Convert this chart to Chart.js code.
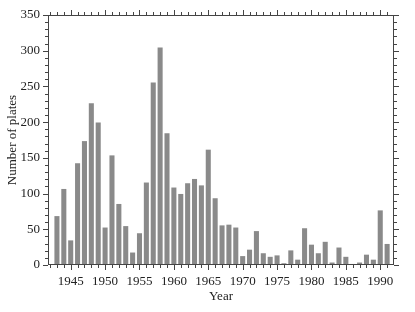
<!DOCTYPE html>
<html>
<head>
<meta charset="utf-8">
<script src="https://cdn.jsdelivr.net/npm/chart.js@4.4.1/dist/chart.umd.min.js"></script>
<style>
    html, body { margin: 0; padding: 0; background: #fff; }
    #wrap { width: 415px; height: 312px; }
</style>
</head>
<body>
<div id="wrap"><canvas id="chart" width="415" height="312"></canvas></div>
<script>
const years = [
    1943, 1944, 1945, 1946, 1947, 1948, 1949, 1950, 1951, 1952,
    1953, 1954, 1955, 1956, 1957, 1958, 1959, 1960, 1961, 1962,
    1963, 1964, 1965, 1966, 1967, 1968, 1969, 1970, 1971, 1972,
    1973, 1974, 1975, 1976, 1977, 1978, 1979, 1980, 1981, 1982,
    1983, 1984, 1985, 1986, 1987, 1988, 1989, 1990, 1991
];
const plates = [
    68, 106, 34, 142, 173, 226, 199, 52, 153, 85,
    54, 17, 44, 115, 255, 304, 184, 108, 99, 114,
    120, 111, 161, 93, 55, 56, 52, 12, 21, 47,
    16, 11, 13, 2, 20, 7, 51, 28, 16, 32,
    3, 24, 11, 1, 3, 14, 7, 76, 29
];
const xTickYears = [1945, 1950, 1955, 1960, 1965, 1970, 1975, 1980, 1985, 1990];
const yTickValues = [0, 50, 100, 150, 200, 250, 300, 350];

const AXIS_COLOR = '#444';
const FONT = { family: '"Liberation Serif", "Times New Roman", serif', size: 13 };

// frame and outward ticks on all four sides
const frameTicks = {
    id: 'frameTicks',
    afterDatasetsDraw(chart) {
        const { ctx, chartArea: a, scales: { x, y } } = chart;
        ctx.save();
        ctx.strokeStyle = AXIS_COLOR;
        ctx.lineWidth = 1;
        ctx.strokeRect(a.left + 0.5, a.top + 0.5, a.right - a.left - 1, a.bottom - a.top - 1);
        ctx.beginPath();
        for (let v = 0; v <= 350; v += 10) {
            const py = Math.round(y.getPixelForValue(v)) + 0.5;
            const len = v % 50 === 0 ? 5 : 3;
            ctx.moveTo(a.left, py);
            ctx.lineTo(a.left - len, py);
            ctx.moveTo(a.right, py);
            ctx.lineTo(a.right + len, py);
        }
        for (let yr = 1942; yr <= 1991; yr++) {
            const px = Math.round(x.getPixelForValue(yr)) + 0.5;
            const len = yr % 5 === 0 ? 5 : 3;
            ctx.moveTo(px, a.bottom);
            ctx.lineTo(px, a.bottom + len);
            ctx.moveTo(px, a.top);
            ctx.lineTo(px, a.top - len);
        }
        ctx.stroke();
        ctx.restore();
    }
};

new Chart(document.getElementById('chart'), {
    type: 'bar',
    data: {
        datasets: [{
            data: years.map((yr, i) => ({ x: yr, y: plates[i] })),
            backgroundColor: '#8a8a8a',
            borderWidth: 0,
            barThickness: 4.4
        }]
    },
    options: {
        responsive: false,
        animation: false,
        layout: { padding: { top: 15, right: 21, left: 0, bottom: 0 } },
        plugins: {
            legend: { display: false },
            tooltip: { enabled: false }
        },
        scales: {
            x: {
                type: 'linear',
                offset: false,
                min: 1941.7,
                max: 1992,
                grid: { display: false, drawTicks: false, offset: false },
                border: { display: false },
                afterBuildTicks: (scale) => { scale.ticks = xTickYears.map(v => ({ value: v })); },
                afterFit: (scale) => {
                    scale.height = 47;
                    scale.paddingLeft = 0;
                    scale.paddingRight = 0;
                },
                ticks: {
                    font: FONT,
                    color: '#222',
                    padding: 9,
                    maxRotation: 0,
                    autoSkip: false,
                    callback: (v) => String(v)
                },
                title: {
                    display: true,
                    text: 'Year',
                    font: FONT,
                    color: '#222',
                    padding: { top: 0, bottom: 8 }
                }
            },
            y: {
                min: 0,
                max: 350,
                grid: { display: false, drawTicks: false },
                border: { display: false },
                afterBuildTicks: (scale) => { scale.ticks = yTickValues.map(v => ({ value: v })); },
                afterFit: (scale) => {
                    scale.width = 48;
                    scale.paddingTop = 0;
                    scale.paddingBottom = 0;
                },
                ticks: {
                    font: FONT,
                    color: '#222',
                    padding: 8
                },
                title: {
                    display: true,
                    text: 'Number of plates',
                    font: FONT,
                    color: '#222',
                    padding: { top: 5, bottom: 0 }
                }
            }
        }
    },
    plugins: [frameTicks]
});
</script>
</body>
</html>
